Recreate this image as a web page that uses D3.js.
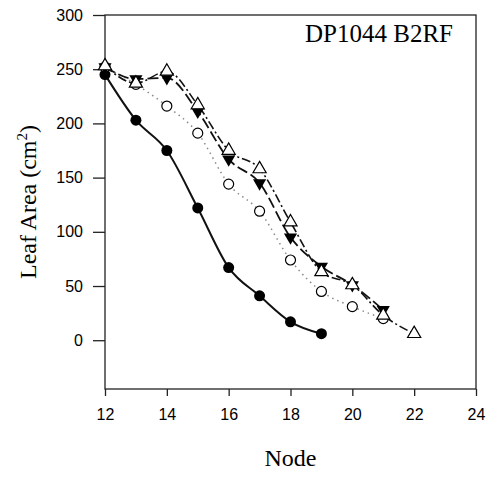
<!DOCTYPE html>
<html>
<head>
<meta charset="utf-8">
<script src="https://cdn.jsdelivr.net/npm/d3@7"></script>
<style>
  body { margin: 0; background: white; }
</style>
</head>
<body>
<div id="chart"></div>
<script>
// Chart data
const nodesA = [12, 13, 14, 15, 16, 17, 18, 19];
const filledCircles = [245, 203, 175, 122, 67, 41, 17, 6];

const nodesB = [12, 13, 14, 15, 16, 17, 18, 19, 20, 21];
const openCircles = [252, 236, 216, 191, 144, 119, 74, 45, 31, 20];

const nodesC = [12, 13, 14, 15, 16, 17, 18, 19, 20, 21];
const downTriangles = [252, 241, 242, 211, 167, 145, 95, 68, 51, 28];

const nodesD = [12, 13, 14, 15, 16, 17, 18, 19, 20, 21, 22];
const upTriangles = [253, 237, 248, 217, 175, 158, 109, 63, 51, 23, 6];

const xTicks = [12, 14, 16, 18, 20, 22, 24];
const yTicks = [0, 50, 100, 150, 200, 250, 300];

const width = 489;
const height = 477;
const margin = { left: 105, right: 13, top: 15, bottom: 88 };

const svg = d3.select("#chart")
  .append("svg")
  .attr("width", width)
  .attr("height", height)
  .style("background-color", "white");

// Scales
const x = d3.scaleLinear()
  .domain([12, 24])
  .range([margin.left, width - margin.right]);

const y = d3.scaleLinear()
  .domain([-45, 300])
  .range([height - margin.bottom, margin.top]);

// Frame around the plot
svg.append("rect")
  .attr("x", x(12))
  .attr("y", y(300))
  .attr("width", x(24) - x(12))
  .attr("height", y(-45) - y(300))
  .attr("fill", "none")
  .attr("stroke", "#222")
  .attr("stroke-width", 1.3);

// Axes
const xAxis = svg.append("g")
  .attr("transform", `translate(0,${y(-45)})`)
  .call(d3.axisBottom(x).tickValues(xTicks).tickSize(7).tickPadding(13));

const yAxis = svg.append("g")
  .attr("transform", `translate(${x(12)},0)`)
  .call(d3.axisLeft(y).tickValues(yTicks).tickSize(12).tickPadding(10));

[xAxis, yAxis].forEach(g => {
  g.select(".domain").remove();
  g.selectAll("line").attr("stroke", "#222").attr("stroke-width", 1.3);
  g.selectAll("text")
    .style("font-family", "Liberation Sans, Arial, sans-serif")
    .style("font-size", "16px")
    .attr("fill", "black");
});

// Axis titles
svg.append("text")
  .attr("x", (x(12) + x(24)) / 2)
  .attr("y", 466)
  .attr("text-anchor", "middle")
  .style("font-family", "Liberation Serif, Times New Roman, serif")
  .style("font-size", "24px")
  .text("Node");

const yLabel = svg.append("text")
  .attr("transform", `translate(36,${(y(300) + y(-45)) / 2}) rotate(-90)`)
  .attr("text-anchor", "middle")
  .style("font-family", "Liberation Serif, Times New Roman, serif")
  .style("font-size", "24px");
yLabel.append("tspan").text("Leaf Area (cm");
yLabel.append("tspan").attr("dy", -9).style("font-size", "15px").text("2");
yLabel.append("tspan").attr("dy", 9).text(")");

// Panel label
svg.append("text")
  .attr("x", 305)
  .attr("y", 42)
  .attr("text-anchor", "start")
  .style("font-family", "Liberation Serif, Times New Roman, serif")
  .style("font-size", "25px")
  .text("DP1044 B2RF");

// Line generator
const line = d3.line()
  .x(d => x(d[0]))
  .y(d => y(d[1]))
  .curve(d3.curveMonotoneX);

const pairs = (xs, ys) => xs.map((v, i) => [v, ys[i]]);

const seriesA = pairs(nodesA, filledCircles);
const seriesB = pairs(nodesB, openCircles);
const seriesC = pairs(nodesC, downTriangles);
const seriesD = pairs(nodesD, upTriangles);

// Lines
svg.append("path")
  .attr("d", line(seriesB))
  .attr("fill", "none")
  .attr("stroke", "#8a8a8a")
  .attr("stroke-width", 1.5)
  .attr("stroke-dasharray", "1.5,4");

svg.append("path")
  .attr("d", line(seriesD))
  .attr("fill", "none")
  .attr("stroke", "#111")
  .attr("stroke-width", 1.6)
  .attr("stroke-dasharray", "9,3,2,3");

svg.append("path")
  .attr("d", line(seriesC))
  .attr("fill", "none")
  .attr("stroke", "#111")
  .attr("stroke-width", 1.8)
  .attr("stroke-dasharray", "11,4");

svg.append("path")
  .attr("d", line(seriesA))
  .attr("fill", "none")
  .attr("stroke", "#111")
  .attr("stroke-width", 2);

// Markers
svg.append("g")
  .selectAll("circle")
  .data(seriesA)
  .enter().append("circle")
  .attr("cx", d => x(d[0]))
  .attr("cy", d => y(d[1]))
  .attr("r", 5.5)
  .attr("fill", "black");

svg.append("g")
  .selectAll("circle")
  .data(seriesB)
  .enter().append("circle")
  .attr("cx", d => x(d[0]))
  .attr("cy", d => y(d[1]))
  .attr("r", 5)
  .attr("fill", "white")
  .attr("stroke", "black")
  .attr("stroke-width", 1.2);

const tri = d3.symbol().type(d3.symbolTriangle).size(75);

svg.append("g")
  .selectAll("path")
  .data(seriesC)
  .enter().append("path")
  .attr("d", tri)
  .attr("transform", d => `translate(${x(d[0])},${y(d[1])}) rotate(180)`)
  .attr("fill", "black");

svg.append("g")
  .selectAll("path")
  .data(seriesD)
  .enter().append("path")
  .attr("d", tri)
  .attr("transform", d => `translate(${x(d[0])},${y(d[1])})`)
  .attr("fill", "white")
  .attr("stroke", "black")
  .attr("stroke-width", 1.2);
</script>
</body>
</html>
